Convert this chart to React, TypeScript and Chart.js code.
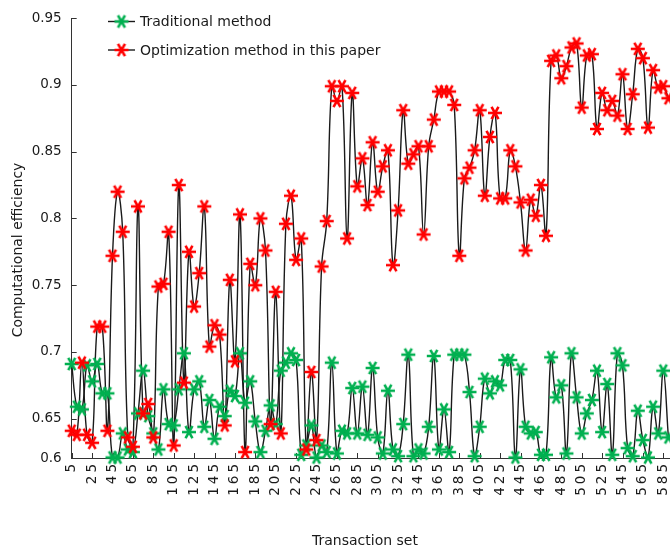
import React, { useEffect, useRef } from 'react';
import { Chart, registerables } from 'chart.js';

Chart.register(...registerables);

const transactionSets = [
  '5', '10', '15', '20', '25', '30', '35', '40', '45', '50', '55', '60', '65', '70', '75', '80', '85', '90', '95', '100',
  '105', '110', '115', '120', '125', '130', '135', '140', '145', '150', '155', '160', '165', '170', '175', '180', '185', '190', '195', '200',
  '205', '210', '215', '220', '225', '230', '235', '240', '245', '250', '255', '260', '265', '270', '275', '280', '285', '290', '295', '300',
  '305', '310', '315', '320', '325', '330', '335', '340', '345', '350', '355', '360', '365', '370', '375', '380', '385', '390', '395', '400',
  '405', '410', '415', '420', '425', '430', '435', '440', '445', '450', '455', '460', '465', '470', '475', '480', '485', '490', '495', '500',
  '505', '510', '515', '520', '525', '530', '535', '540', '545', '550', '555', '560', '565', '570', '575', '580', '585', '590', '595', '600',
];

const traditional = [
  0.691, 0.659, 0.657, 0.690, 0.678, 0.691, 0.669, 0.669, 0.621, 0.621,
  0.639, 0.627, 0.625, 0.654, 0.686, 0.652, 0.639, 0.627, 0.672, 0.646,
  0.645, 0.672, 0.699, 0.640, 0.672, 0.678, 0.644, 0.664, 0.635, 0.659,
  0.652, 0.671, 0.667, 0.699, 0.662, 0.678, 0.648, 0.625, 0.641, 0.660,
  0.646, 0.686, 0.692, 0.699, 0.694, 0.623, 0.630, 0.645, 0.621, 0.630,
  0.625, 0.692, 0.624, 0.641, 0.639, 0.673, 0.639, 0.674, 0.638, 0.688,
  0.636, 0.624, 0.671, 0.627, 0.622, 0.646, 0.698, 0.622, 0.627, 0.624,
  0.644, 0.697, 0.627, 0.657, 0.625, 0.698, 0.698, 0.698, 0.670, 0.622,
  0.644, 0.680, 0.669, 0.678, 0.675, 0.694, 0.694, 0.621, 0.687, 0.644,
  0.639, 0.640, 0.623, 0.623, 0.696, 0.666, 0.675, 0.624, 0.699, 0.666,
  0.639, 0.654, 0.664, 0.686, 0.640, 0.676, 0.623, 0.699, 0.690, 0.628,
  0.622, 0.656, 0.634, 0.621, 0.659, 0.639, 0.686, 0.636,
];

const optimized = [
  0.641, 0.638, 0.692, 0.638, 0.632, 0.719, 0.719, 0.641, 0.772, 0.820,
  0.790, 0.636, 0.629, 0.809, 0.654, 0.661, 0.636, 0.749, 0.751, 0.790,
  0.630, 0.825, 0.677, 0.775, 0.734, 0.759, 0.809, 0.704, 0.720, 0.713,
  0.645, 0.754, 0.693, 0.803, 0.625, 0.766, 0.750, 0.800, 0.776, 0.646,
  0.745, 0.639, 0.796, 0.817, 0.769, 0.785, 0.627, 0.685, 0.634, 0.764,
  0.798, 0.899, 0.888, 0.899, 0.785, 0.894, 0.824, 0.845, 0.810, 0.857,
  0.820, 0.839, 0.851, 0.765, 0.806, 0.881, 0.841, 0.848, 0.854, 0.788,
  0.854, 0.874, 0.895, 0.895, 0.895, 0.885, 0.772, 0.830, 0.838, 0.851,
  0.881, 0.817, 0.861, 0.879, 0.815, 0.815, 0.851, 0.839, 0.812, 0.776,
  0.814, 0.802, 0.825, 0.787, 0.918, 0.922, 0.905, 0.914, 0.928, 0.931,
  0.883, 0.922, 0.923, 0.867, 0.894, 0.881, 0.888, 0.877, 0.908, 0.867,
  0.893, 0.927, 0.920, 0.868, 0.911, 0.898, 0.899, 0.890,
];

const yAxisMin = 0.6206;
const yAxisMax = 0.95;
const yTicks = [yAxisMin, 0.65, 0.7, 0.75, 0.8, 0.85, 0.9, 0.95];
const yTickLabels = ['0.6', '0.65', '0.7', '0.75', '0.8', '0.85', '0.9', '0.95'];
const seriesNames = ['Traditional method', 'Optimization method in this paper'];
const xTitle = 'Transaction set';
const yTitle = 'Computational efficiency';

const GREEN = '#00b050';
const RED = '#ff0000';
const LINE = '#1a1a1a';
const TEXT = '#1a1a1a';
const FONT = '"DejaVu Sans", Verdana, sans-serif';

function makeStar(color: string): HTMLCanvasElement {
  const c = document.createElement('canvas');
  c.width = 18;
  c.height = 18;
  const g = c.getContext('2d')!;
  g.strokeStyle = color;
  g.lineWidth = 2.6;
  const r = 7;
  g.beginPath();
  [0, 60, 120].forEach((deg) => {
    const a = (deg * Math.PI) / 180;
    g.moveTo(9 - r * Math.cos(a), 9 - r * Math.sin(a));
    g.lineTo(9 + r * Math.cos(a), 9 + r * Math.sin(a));
  });
  g.stroke();
  return c;
}

export default function App() {
  const ref = useRef<HTMLCanvasElement>(null);

  useEffect(() => {
    const canvas = ref.current!;
    const greenStar = makeStar(GREEN);
    const redStar = makeStar(RED);

    const axisDecor = {
      id: 'axisDecor',
      beforeDatasetsDraw(chart: any) {
        const { ctx, chartArea: a, scales } = chart;
        const x = scales.x;
        const y = scales.y;
        ctx.save();
        // inward tick marks
        ctx.strokeStyle = '#333';
        ctx.lineWidth = 1;
        ctx.beginPath();
        y.ticks.forEach((_t: any, i: number) => {
          const py = Math.round(y.getPixelForTick(i)) + 0.5;
          ctx.moveTo(a.left, py);
          ctx.lineTo(a.left + 5, py);
        });
        x.ticks.forEach((_t: any, i: number) => {
          if (i % 4 !== 0) return;
          const px = Math.round(x.getPixelForTick(i)) + 0.5;
          ctx.moveTo(px, a.bottom);
          ctx.lineTo(px, a.bottom - 5);
        });
        ctx.stroke();
        // rotated x tick labels with letter spacing
        ctx.fillStyle = TEXT;
        ctx.font = `13.5px ${FONT}`;
        ctx.textAlign = 'right';
        ctx.textBaseline = 'middle';
        const spacing = 3;
        (ctx as any).letterSpacing = `${spacing}px`;
        transactionSets.forEach((lab, i) => {
          if (i % 4 !== 0) return;
          const px = x.getPixelForValue(i);
          ctx.save();
          ctx.translate(px, a.bottom + 6);
          ctx.rotate(-Math.PI / 2);
          ctx.fillText(lab, spacing, 0);
          ctx.restore();
        });
        (ctx as any).letterSpacing = '0px';
        // axis titles
        ctx.font = `14px ${FONT}`;
        ctx.textAlign = 'center';
        ctx.textBaseline = 'middle';
        ctx.fillText(xTitle, 365, 541);
        ctx.save();
        ctx.translate(18, 250);
        ctx.rotate(-Math.PI / 2);
        ctx.fillText(yTitle, 0, 0);
        ctx.restore();
        ctx.restore();
      },
    };

    const customLegend = {
      id: 'customLegend',
      afterDraw(chart: any) {
        const { ctx } = chart;
        const rows = [
          { name: seriesNames[0], star: greenStar, y: 21.5 },
          { name: seriesNames[1], star: redStar, y: 50 },
        ];
        ctx.save();
        rows.forEach((r) => {
          ctx.strokeStyle = LINE;
          ctx.lineWidth = 1.4;
          ctx.beginPath();
          ctx.moveTo(108, r.y);
          ctx.lineTo(135, r.y);
          ctx.stroke();
          ctx.drawImage(r.star, 121.5 - 9, r.y - 9);
          ctx.fillStyle = TEXT;
          ctx.font = `14px ${FONT}`;
          ctx.textBaseline = 'middle';
          ctx.textAlign = 'left';
          ctx.fillText(r.name, 140, r.y + 1);
        });
        ctx.restore();
      },
    };

    const chart = new Chart(canvas, {
      type: 'line',
      data: {
        labels: transactionSets,
        datasets: [
          {
            label: seriesNames[1],
            data: optimized,
            showLine: false,
            pointStyle: redStar as any,
            pointRadius: 7,
            clip: false as any,
          },
          {
            label: seriesNames[0],
            data: traditional,
            showLine: false,
            pointStyle: greenStar as any,
            pointRadius: 7,
            clip: false as any,
          },
          {
            label: seriesNames[1] + ' line',
            data: optimized,
            borderColor: LINE,
            borderWidth: 1.4,
            pointRadius: 0,
            tension: 0.4,
            fill: false,
          },
          {
            label: seriesNames[0] + ' line',
            data: traditional,
            borderColor: LINE,
            borderWidth: 1.4,
            pointRadius: 0,
            tension: 0.4,
            fill: false,
          },
        ],
      },
      options: {
        responsive: false,
        animation: false,
        devicePixelRatio: 1,
        events: [],
        layout: { padding: { left: 0, top: 13.3, right: 11.4, bottom: 0 } },
        plugins: {
          legend: { display: false },
          tooltip: { enabled: false },
        },
        scales: {
          x: {
            type: 'category',
            offset: false,
            grid: { display: true, drawOnChartArea: false, drawTicks: false },
            border: { display: true, color: '#333', width: 1 },
            ticks: { display: false, autoSkip: false },
            title: { display: false },
            afterFit: (s: any) => {
              s.height = 92;
            },
          },
          y: {
            type: 'linear',
            min: yAxisMin,
            max: yAxisMax,
            afterBuildTicks: (s: any) => {
              s.ticks = yTicks.map((v) => ({ value: v }));
            },
            grid: { display: true, drawOnChartArea: false, drawTicks: false },
            border: { display: true, color: '#333', width: 1 },
            ticks: {
              padding: 10,
              color: TEXT,
              font: { family: FONT, size: 13.5 },
              callback: (_v: any, i: number) => yTickLabels[i],
            },
            title: { display: false },
            afterFit: (s: any) => {
              s.width = 71.7;
            },
          },
        },
      } as any,
      plugins: [axisDecor, customLegend],
    });

    return () => chart.destroy();
  }, []);

  return (
    <div
      style={{
        position: 'absolute',
        left: 0,
        top: 0,
        width: 670,
        height: 550,
        overflow: 'hidden',
        background: '#fff',
      }}
    >
      <canvas ref={ref} width={690} height={550} style={{ display: 'block' }} />
    </div>
  );
}
